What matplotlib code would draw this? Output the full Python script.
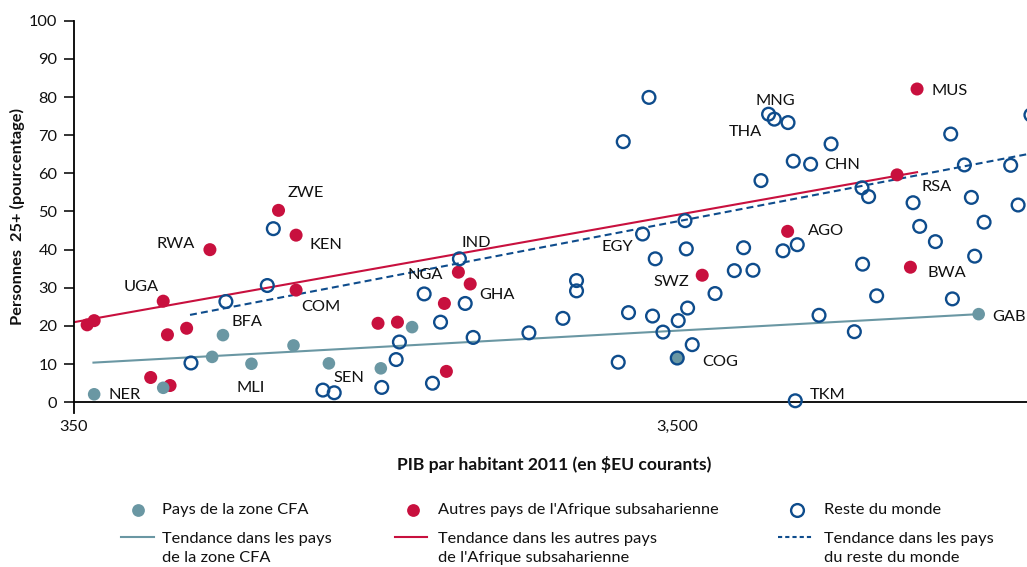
import matplotlib
matplotlib.use("Agg")
import matplotlib.pyplot as plt
from matplotlib.lines import Line2D
from matplotlib.ticker import FixedLocator, FixedFormatter, NullLocator

# ---------------- data ----------------
cfa_codes = ["NER", "", "", "BFA", "MLI", "", "SEN", "", "", "COG", "GAB"]
cfa_gdp = [378, 492, 593, 618, 689, 809, 926, 1129, 1272, 3500, 11060]
cfa_pct = [2.1, 3.8, 11.9, 17.6, 10.1, 14.9, 10.2, 8.9, 19.7, 11.6, 23.1]

ssa_codes = ["", "", "UGA", "", "", "RWA", "", "", "ZWE", "KEN", "COM", "", "",
             "NGA", "GHA", "", "", "SWZ", "AGO", "BWA", "RSA", "MUS"]
ssa_gdp = [368, 378, 492, 500, 538, 588, 469, 505, 764, 817, 817, 1117, 1203,
           1518, 1588, 1439, 1450, 3850, 5334, 8523, 8100, 8742]
ssa_pct = [20.3, 21.4, 26.5, 17.7, 19.4, 40.0, 6.5, 4.4, 50.3, 43.8, 29.4, 20.7, 21.0,
           34.1, 31.0, 25.9, 8.1, 33.3, 44.8, 35.4, 59.6, 82.1]

row_gdp = [547, 625, 732, 749, 905, 945, 1133, 1197, 1212, 1332, 1375, 1418, 1524,
           1558, 1606, 1987, 2262, 2383, 2383, 2848, 2794, 2906, 3142, 3066, 3218,
           3185, 3314, 3513, 3605, 3623, 3641, 3706, 4043, 4352, 4509, 4673, 4818,
           4960, 5069, 5342, 5240, 5450, 5534, 5823, 6013, 5492, 6296, 6881, 7085,
           7266, 7101, 7493, 8610, 8830, 9376, 9940, 10004, 10473, 10756, 10892,
           11290, 12497, 12856, 13500, 3500]
row_pct = [10.3, 26.4, 30.6, 45.5, 3.2, 2.5, 3.9, 11.2, 15.8, 28.4, 5.0, 21.0, 37.6,
           25.9, 17.0, 18.2, 22.0, 31.9, 29.2, 68.3, 10.5, 23.5, 79.9, 44.1, 37.6,
           22.6, 18.4, 21.4, 47.6, 40.2, 24.7, 15.1, 28.5, 34.5, 40.5, 34.6, 58.1,
           75.5, 74.2, 73.3, 39.7, 63.2, 41.3, 62.4, 22.8, 0.4, 67.7, 18.5, 56.2,
           53.9, 36.2, 27.9, 52.3, 46.1, 42.1, 70.3, 27.1, 62.2, 53.7, 38.3,
           47.2, 62.1, 51.7, 75.3, 11.6]
row_codes = [""] * len(row_gdp)
row_codes[12] = "IND"
row_codes[23] = "EGY"
row_codes[37] = "MNG"
row_codes[38] = "THA"
row_codes[43] = "CHN"
row_codes[45] = "TKM"

trend_cfa_gdp = [377, 11060]
trend_cfa_pct = [10.4, 23.1]
trend_ssa_gdp = [350, 8742]
trend_ssa_pct = [21.0, 60.3]
trend_row_gdp = [545, 13500]
trend_row_pct = [22.9, 65.2]

x_ticks = [350, 3500]
x_ticklabels = ["350", "3,500"]
y_ticks = [0, 10, 20, 30, 40, 50, 60, 70, 80, 90, 100]

legend_marker_labels = ["Pays de la zone CFA", "Autres pays de l'Afrique subsaharienne",
                        "Reste du monde"]
legend_line_labels = ["Tendance dans les pays\nde la zone CFA",
                      "Tendance dans les autres pays\nde l'Afrique subsaharienne",
                      "Tendance dans les pays\ndu reste du monde"]

# ---------------- style ----------------
plt.rcParams["font.family"] = ["Lato", "DejaVu Sans"]
plt.rcParams["lines.scale_dashes"] = False

TEAL = "#6A97A3"
RED = "#C8103E"
NAVY = "#0E4C8C"
TXT = "#111111"
FS = 11.8

# label offsets in pixels (dx, dy up), horizontal alignment
label_offsets = {
    "NER": (14, 1, "left"), "BFA": (9, 14.5, "left"), "MLI": (-1, -22, "center"),
    "SEN": (5, -13, "left"), "COG": (25, -2, "left"), "GAB": (14, -1, "left"),
    "UGA": (-4, 16, "right"), "RWA": (-15, 7, "right"), "ZWE": (9, 19, "left"),
    "KEN": (13, -8, "left"), "COM": (5, -15.5, "left"), "NGA": (-15, -1, "right"),
    "GHA": (9, -9, "left"), "SWZ": (-13, -5, "right"), "AGO": (20, 2.5, "left"),
    "BWA": (17, -3.5, "left"), "RSA": (24, -10, "left"), "MUS": (14, 0, "left"),
    "IND": (2, 18, "left"), "EGY": (-9, -10.7, "right"), "TKM": (14, 7.7, "left"),
    "MNG": (7, 14.6, "center"), "THA": (-12, -11, "right"), "CHN": (14, 1, "left"),
}

W, H = 1027, 567
fig = plt.figure(figsize=(W / 100, H / 100), dpi=100)
ax = fig.add_axes([74 / W, 1 - 412.6 / H, 953 / W, (412.6 - 20.7) / H])

ax.set_xscale("log")
ax.set_xlim(350, 13300)
ax.set_ylim(-2.7, 100)

# trend lines
ax.plot(trend_cfa_gdp, trend_cfa_pct, color=TEAL, lw=1.5, zorder=2)
ax.plot(trend_ssa_gdp, trend_ssa_pct, color=RED, lw=1.5, zorder=2)
ax.plot(trend_row_gdp, trend_row_pct, color=NAVY, lw=1.5, dashes=(5, 3), zorder=2)

# points
ax.scatter(ssa_gdp, ssa_pct, s=88, color=RED, edgecolors="none", zorder=3)
ax.scatter(cfa_gdp, cfa_pct, s=82, color=TEAL, edgecolors="none", zorder=4)
ax.scatter(row_gdp, row_pct, s=84, facecolors="none", edgecolors=NAVY,
           linewidths=1.7, zorder=5, clip_on=True)

for codes, xs, ys in [(cfa_codes, cfa_gdp, cfa_pct), (ssa_codes, ssa_gdp, ssa_pct),
                      (row_codes, row_gdp, row_pct)]:
    for c, xv, yv in zip(codes, xs, ys):
        if not c:
            continue
        dx, dy, ha = label_offsets[c]
        ax.annotate(c, (xv, yv), xytext=(dx, dy - 5.8), textcoords="offset pixels",
                    ha=ha, va="baseline", fontsize=FS, color=TXT, zorder=6)

# axes styling
for s in ["top", "right"]:
    ax.spines[s].set_visible(False)
ax.spines["bottom"].set_position(("data", 0))
ax.spines["bottom"].set_linewidth(1.3)
ax.spines["left"].set_linewidth(1.3)
ax.spines["bottom"].set_zorder(1)

ax.xaxis.set_major_locator(FixedLocator(x_ticks))
ax.xaxis.set_major_formatter(FixedFormatter(x_ticklabels))
ax.xaxis.set_minor_locator(NullLocator())
ax.set_yticks(y_ticks)
ax.tick_params(axis="x", length=0, pad=13, labelsize=FS, colors=TXT)
ax.tick_params(axis="y", length=7, width=1.2, pad=5, labelsize=FS, colors=TXT,
               direction="out")

ax.set_ylabel("Personnes  25+ (pourcentage)", fontsize=FS, fontweight="bold", color=TXT)
ax.yaxis.set_label_coords(-0.0514, 0.50)
ax.set_xlabel("PIB par habitant 2011 (en $EU courants)", fontsize=12.6,
              fontweight="bold", color=TXT)
ax.xaxis.set_label_coords(0.5037, -0.1337)
ax.xaxis.label.set_va("center")

# legend (manual, figure pixel coordinates)
def fx(px):
    return px / W


def fy(py):
    return 1 - py / H


col_marker_x = [137.5, 412.5, 797]
col_text_x = [162.5, 437.5, 824]
col_line = [(121, 154), (395, 427), (778, 812)]
row1_y = 510
row2_y = 548.5

styles = [dict(color=TEAL, mec=TEAL, mfc=TEAL, ls="-"),
          dict(color=RED, mec=RED, mfc=RED, ls="-"),
          dict(color=NAVY, mec=NAVY, mfc="none", ls="--")]

for i in range(3):
    st = styles[i]
    fig.add_artist(Line2D([fx(col_marker_x[i])], [fy(row1_y)], transform=fig.transFigure,
                          marker="o", markersize=9.2, mec=st["mec"], mfc=st["mfc"],
                          mew=1.7 if i == 2 else 0, ls="none"))
    fig.text(fx(col_text_x[i]), fy(row1_y), legend_marker_labels[i], fontsize=FS,
             color=TXT, ha="left", va="center")
    x0, x1 = col_line[i]
    ln = Line2D([fx(x0), fx(x1)], [fy(536.7), fy(536.7)], transform=fig.transFigure,
                color=st["color"], lw=1.5)
    if i == 2:
        ln.set_dashes((3, 2.2))
    fig.add_artist(ln)
    fig.text(fx(col_text_x[i]), fy(row2_y), legend_line_labels[i], fontsize=FS,
             color=TXT, ha="left", va="center", linespacing=1.42)

fig.savefig("out.png", dpi=100)
